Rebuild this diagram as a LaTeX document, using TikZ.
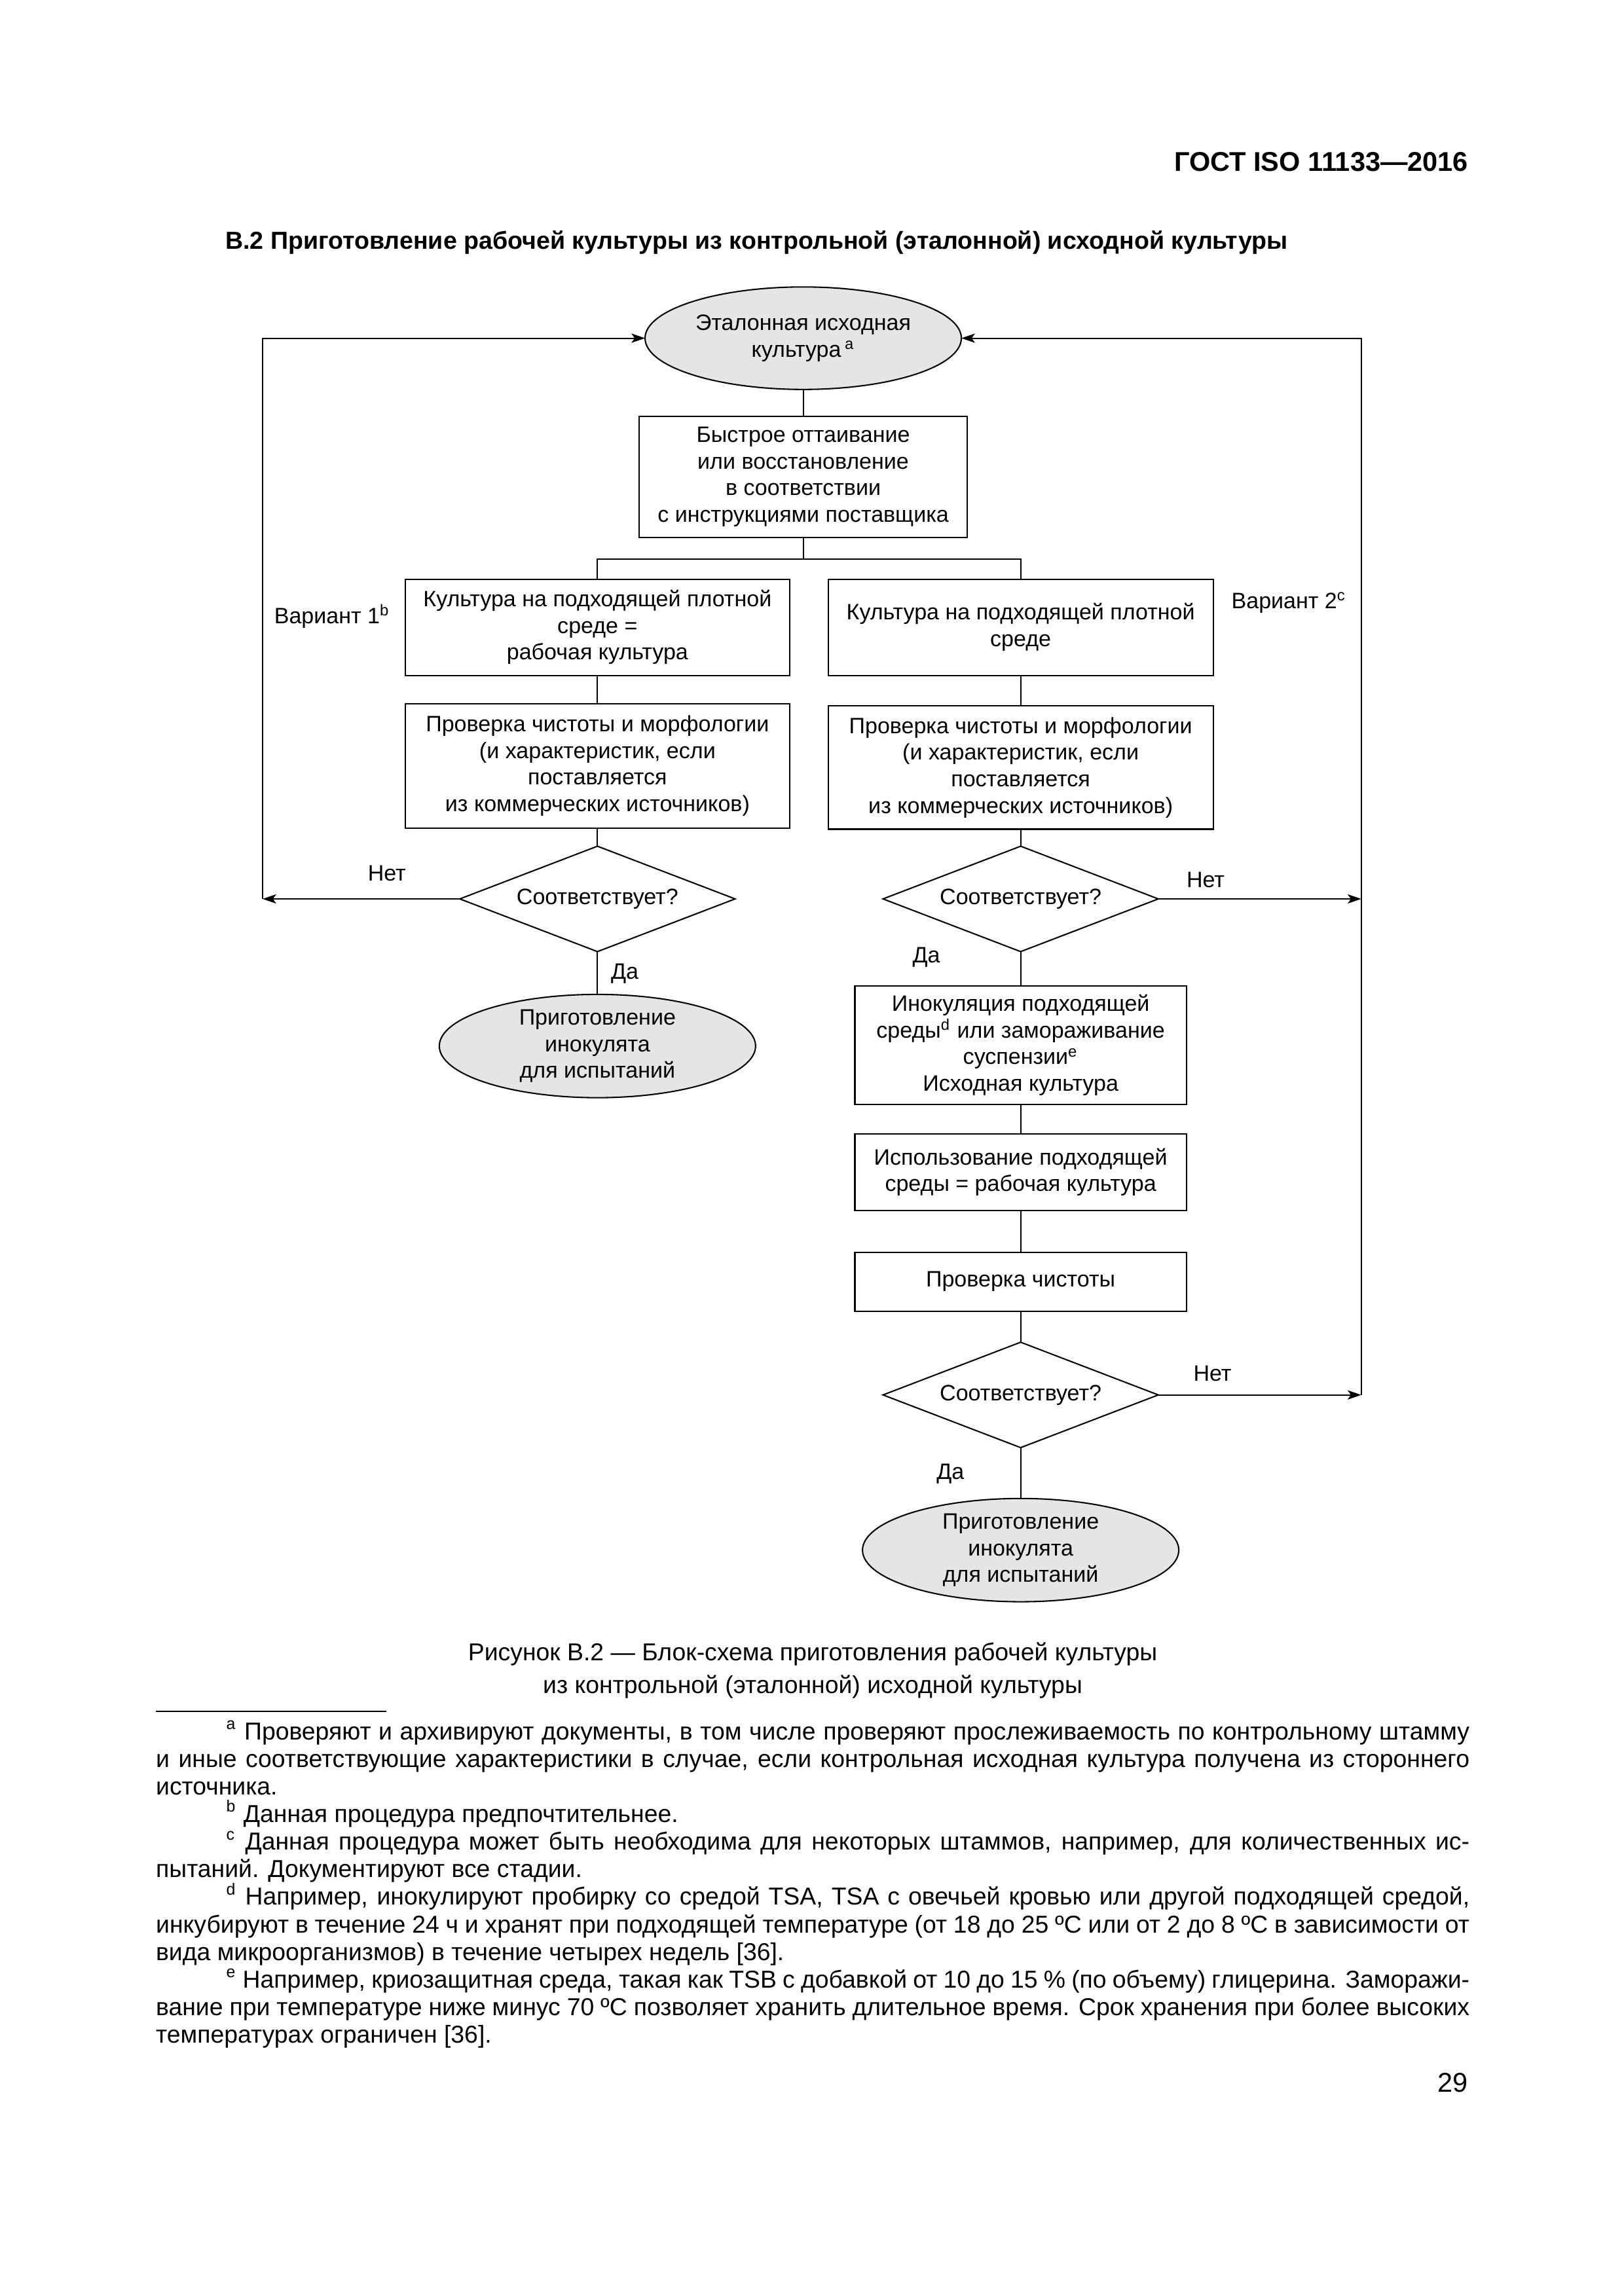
\documentclass[tikz,border=0pt]{standalone}
\usepackage{fontspec}
\setmainfont{Liberation Sans}
\usetikzlibrary{shapes.geometric,arrows.meta}
\def\pxu{0.18936mm}
\def\fnw{169.86mm}
\begin{document}
\begin{tikzpicture}[x=0.18936mm,y=-0.18936mm,
  every node/.style={inner sep=0pt, outer sep=0pt},
  ln/.style={line width=0.5pt},
  arr/.style={ln,-{Stealth[length=5pt,width=3.4pt,inset=1.2pt]}},
  fc/.style={font=\fontsize{8.2}{9.8}\selectfont, align=center},
  bx/.style={fc, draw, line width=0.5pt, rectangle},
  el/.style={fc, draw, ellipse, fill=gray!20, line width=0.5pt, minimum width=216*\pxu, minimum height=70*\pxu},
  dm/.style={fc, draw, diamond, aspect=2.6, line width=0.5pt, minimum width=188*\pxu, minimum height=72*\pxu},
  lbl/.style={font=\fontsize{8.2}{9.8}\selectfont},
  fn/.style={font=\fontsize{9}{10.1}\selectfont, anchor=base west},
  capt/.style={font=\fontsize{9}{11.8}\selectfont, anchor=base},
  hd/.style={font=\bfseries\fontsize{10}{12}\selectfont},
  ttlstyle/.style={font=\bfseries\fontsize{9.05}{11}\selectfont},
]
\useasboundingbox (0,0) rectangle (1109,1568.3);

% header and title
\node[hd, anchor=base east] (hdr) at (1002.6,117) {ГОСТ ISO 11133—2016};
\node[ttlstyle, anchor=base west] (ttl) at (154,170) {В.2 Приготовление рабочей культуры из контрольной (эталонной) исходной культуры};

% flowchart nodes
\node[el] (E0) at (548.5,231) {Эталонная исходная\\культура\,\textsuperscript{a}};
\node[bx, minimum width=224*\pxu, minimum height=82.6*\pxu] (B1) at (548.5,325.7) {Быстрое оттаивание\\или восстановление\\в соответствии\\с инструкциями поставщика};
\node[bx, minimum width=262.5*\pxu, minimum height=65.7*\pxu] (L1) at (408,428.5) {Культура на подходящей плотной\\среде =\\рабочая культура};
\node[bx, minimum width=263*\pxu, minimum height=65.7*\pxu] (R1) at (697,428.5) {Культура на подходящей плотной\\среде};
\node[bx, minimum width=262.5*\pxu, minimum height=84.8*\pxu] (L2) at (408,523.1) {Проверка чистоты и морфологии\\(и характеристик, если\\поставляется\\из коммерческих источников)};
\node[bx, minimum width=263*\pxu, minimum height=84.3*\pxu] (R2) at (697,524.2) {Проверка чистоты и морфологии\\(и характеристик, если\\поставляется\\из коммерческих источников)};
\node[dm] (D1) at (408,614) {Соответствует?};
\node[dm] (D2) at (697,614) {Соответствует?};
\node[el] (EL) at (408,714.5) {Приготовление\\инокулята\\для испытаний};
\node[bx, minimum width=226.4*\pxu, minimum height=80.7*\pxu] (R3) at (697,713.9) {Инокуляция подходящей\\среды\textsuperscript{d} или замораживание\\суспензии\textsuperscript{e}\\Исходная культура};
\node[bx, minimum width=226.4*\pxu, minimum height=52.5*\pxu] (R4) at (697,800.7) {Использование подходящей\\среды = рабочая культура};
\node[bx, minimum width=226.4*\pxu, minimum height=40.3*\pxu] (R5) at (697,875.5) {Проверка чистоты};
\node[dm] (D3) at (697,952.8) {Соответствует?};
\node[el] (ER) at (697,1058.8) {Приготовление\\инокулята\\для испытаний};

% labels
\node[lbl, anchor=west] (v1) at (187.3,421) {Вариант 1\textsuperscript{b}};
\node[lbl, anchor=west] (v2) at (841,411.8) {Вариант 2\textsuperscript{c}};
\node[lbl] (n1) at (264.2,596.5) {Нет};
\node[lbl] (n2) at (823.3,601.2) {Нет};
\node[lbl] (n3) at (828,938) {Нет};
\node[lbl] (y1) at (426.7,665) {Да};
\node[lbl] (y2) at (632.6,654) {Да};
\node[lbl] (y3) at (649,1006.6) {Да};

% connector points
\coordinate (br) at (548.5,382);
\coordinate (cL) at (179.3,614);
\coordinate (cR1) at (929.6,614);
\coordinate (cR2) at (929.6,952.8);

% connectors
\draw[ln] (E0.south) -- (B1.north);
\draw[ln] (B1.south) -- (br);
\draw[ln] (br) -| (L1.north);
\draw[ln] (br) -| (R1.north);
\draw[ln] (L1.south) -- (L2.north);
\draw[ln] (R1.south) -- (R2.north);
\draw[ln] (L2.south) -- (D1.north);
\draw[ln] (R2.south) -- (D2.north);
\draw[arr] (D1.west) -- (cL);
\draw[arr] (cL) |- (E0.west);
\draw[arr] (D2.east) -- (cR1);
\draw[arr] (D3.east) -- (cR2);
\draw[arr] (cR2) |- (E0.east);
\draw[ln] (D1.south) -- (EL.north);
\draw[ln] (D2.south) -- (R3.north);
\draw[ln] (R3.south) -- (R4.north);
\draw[ln] (R4.south) -- (R5.north);
\draw[ln] (R5.south) -- (D3.north);
\draw[ln] (D3.south) -- (ER.north);

% caption
\node[capt] (cap1) at (555,1134.5) {Рисунок В.2 — Блок-схема приготовления рабочей культуры};
\node[capt] (cap2) at (555,1156.5) {из контрольной (эталонной) исходной культуры};

% footnote rule
\draw[line width=0.5pt] (106.5,1169) -- (264,1169);

% footnotes
\node[fn] (f1) at (106.5,1188.5) {\makebox[\fnw][s]{\hspace*{9.1mm}\textsuperscript{a} Проверяют и архивируют документы, в том числе проверяют прослеживаемость по контрольному штамму}};
\node[fn] (f2) at (106.5,1207.3) {\makebox[\fnw][s]{и иные соответствующие характеристики в случае, если контрольная исходная культура получена из стороннего}};
\node[fn] (f3) at (106.5,1226.1) {источника.};
\node[fn] (f4) at (106.5,1244.9) {\hspace*{9.1mm}\textsuperscript{b} Данная процедура предпочтительнее.};
\node[fn] (f5) at (106.5,1263.7) {\makebox[\fnw][s]{\hspace*{9.1mm}\textsuperscript{c} Данная процедура может быть необходима для некоторых штаммов, например, для количественных ис-}};
\node[fn] (f6) at (106.5,1282.5) {пытаний. Документируют все стадии.};
\node[fn] (f7) at (106.5,1301.3) {\makebox[\fnw][s]{\hspace*{9.1mm}\textsuperscript{d} Например, инокулируют пробирку со средой TSA, TSA с овечьей кровью или другой подходящей средой,}};
\node[fn] (f8) at (106.5,1320.1) {\makebox[\fnw][s]{инкубируют в течение 24 ч и хранят при подходящей температуре (от 18 до 25 ºC или от 2 до 8 ºC в зависимости от}};
\node[fn] (f9) at (106.5,1338.9) {вида микроорганизмов) в течение четырех недель [36].};
\node[fn] (f10) at (106.5,1357.7) {\makebox[\fnw][s]{\hspace*{9.1mm}\textsuperscript{e} Например, криозащитная среда, такая как TSB с добавкой от 10 до 15 \% (по объему) глицерина. Заморажи-}};
\node[fn] (f11) at (106.5,1376.5) {\makebox[\fnw][s]{вание при температуре ниже минус 70 ºC позволяет хранить длительное время. Срок хранения при более высоких}};
\node[fn] (f12) at (106.5,1395.3) {температурах ограничен [36].};

% page number
\node[font=\fontsize{10}{12}\selectfont, anchor=base east] (pg) at (1002.6,1429) {29};
\end{tikzpicture}
\end{document}
